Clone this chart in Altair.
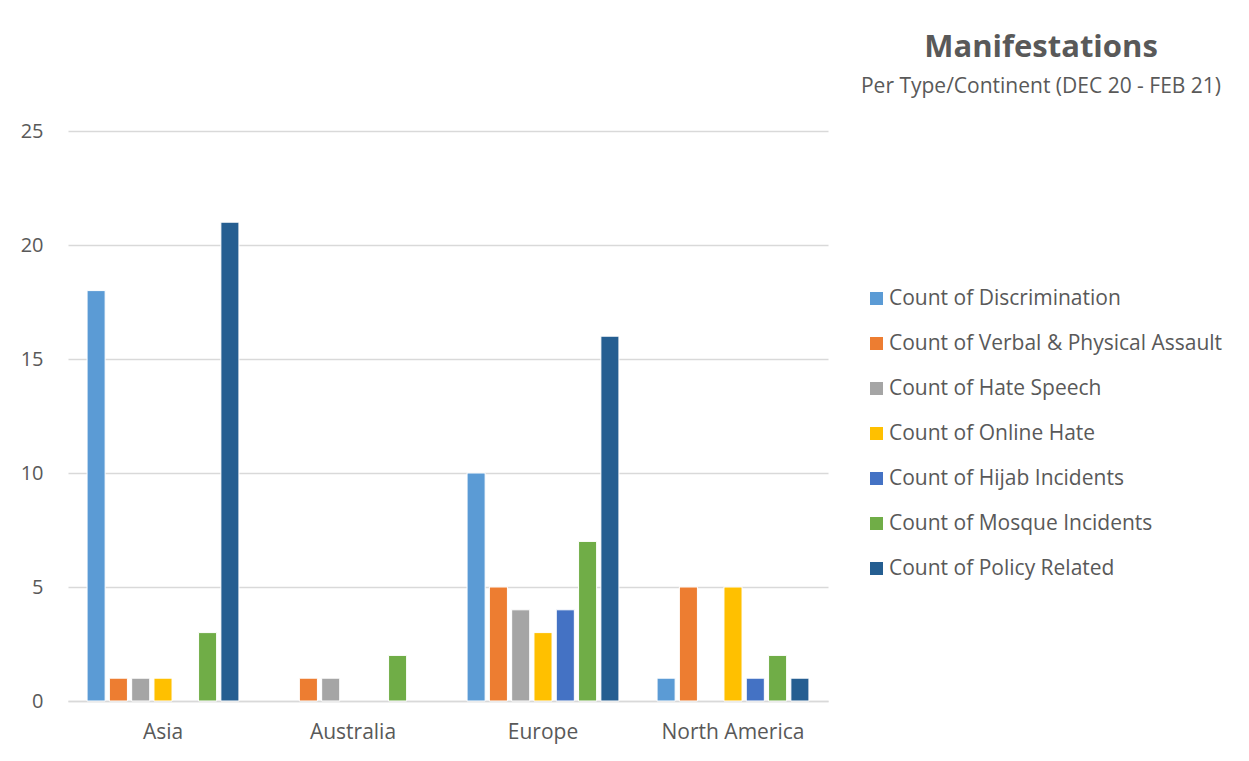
import altair as alt
import pandas as pd

continents = ["Asia", "Australia", "Europe", "North America"]
series = [
    "Count of Discrimination",
    "Count of Verbal & Physical Assault",
    "Count of Hate Speech",
    "Count of Online Hate",
    "Count of Hijab Incidents",
    "Count of Mosque Incidents",
    "Count of Policy Related",
]
discrimination = [18, 0, 10, 1]
verbal_physical = [1, 1, 5, 5]
hate_speech = [1, 1, 4, 0]
online_hate = [1, 0, 3, 5]
hijab = [0, 0, 4, 1]
mosque = [3, 2, 7, 2]
policy = [21, 0, 16, 1]
colors = ["#5B9BD5", "#ED7D31", "#A5A5A5", "#FFC000", "#4472C4", "#70AD47", "#255E91"]
y_ticks = [0, 5, 10, 15, 20, 25]

series_values = [discrimination, verbal_physical, hate_speech, online_hate, hijab, mosque, policy]
rows = []
for s, vals in zip(series, series_values):
    for c, v in zip(continents, vals):
        rows.append({"Continent": c, "Type": s, "Value": v})
df = pd.DataFrame(rows)
df = df[df["Value"] > 0]

FONT = "Open Sans"
GREY = "#595959"

chart = alt.Chart(df).mark_bar(stroke="white", strokeWidth=1).encode(
    x=alt.X(
        "Continent:N",
        scale=alt.Scale(domain=continents, paddingInner=0, paddingOuter=0),
        axis=alt.Axis(
            title=None, labelAngle=0, ticks=False, domainColor="#D9D9D9", domainWidth=1.3,
            labelFontSize=21, labelColor=GREY, labelFont=FONT, labelPadding=20, grid=False,
        ),
    ),
    xOffset=alt.XOffset(
        "Type:N", scale=alt.Scale(domain=series, paddingInner=0.19, paddingOuter=0.855)
    ),
    y=alt.Y(
        "Value:Q",
        scale=alt.Scale(domain=[0, 25], nice=False),
        axis=alt.Axis(
            title=None, values=y_ticks, ticks=False, domain=False, gridColor="#D9D9D9",
            gridWidth=1.3, labelFontSize=20, labelColor=GREY, labelFont=FONT, labelPadding=25,
        ),
    ),
    color=alt.Color(
        "Type:N",
        scale=alt.Scale(domain=series, range=colors),
        legend=alt.Legend(
            title=None, orient="none", legendX=798, legendY=157, symbolType="square",
            symbolSize=170, symbolStrokeWidth=0, labelFontSize=21, labelColor=GREY,
            labelFont=FONT, rowPadding=23, labelOffset=2, labelLimit=400,
        ),
    ),
).properties(
    width=760,
    height=570,
    background="white",
    title=alt.TitleParams(
        text="Manifestations",
        subtitle="Per Type/Continent (DEC 20 - FEB 21)",
        anchor="middle",
        dx=593,
        offset=23,
        fontSize=31,
        fontWeight="bold",
        color=GREY,
        font=FONT,
        subtitleFontSize=21,
        subtitleColor=GREY,
        subtitleFont=FONT,
        subtitlePadding=12,
    ),
    autosize=alt.AutoSizeParams(type="none"),
    padding={"left": 60, "top": 123, "right": 413, "bottom": 52},
).configure_view(stroke=None)

chart.save("out.html", embed_options={"renderer": "svg", "actions": False})
